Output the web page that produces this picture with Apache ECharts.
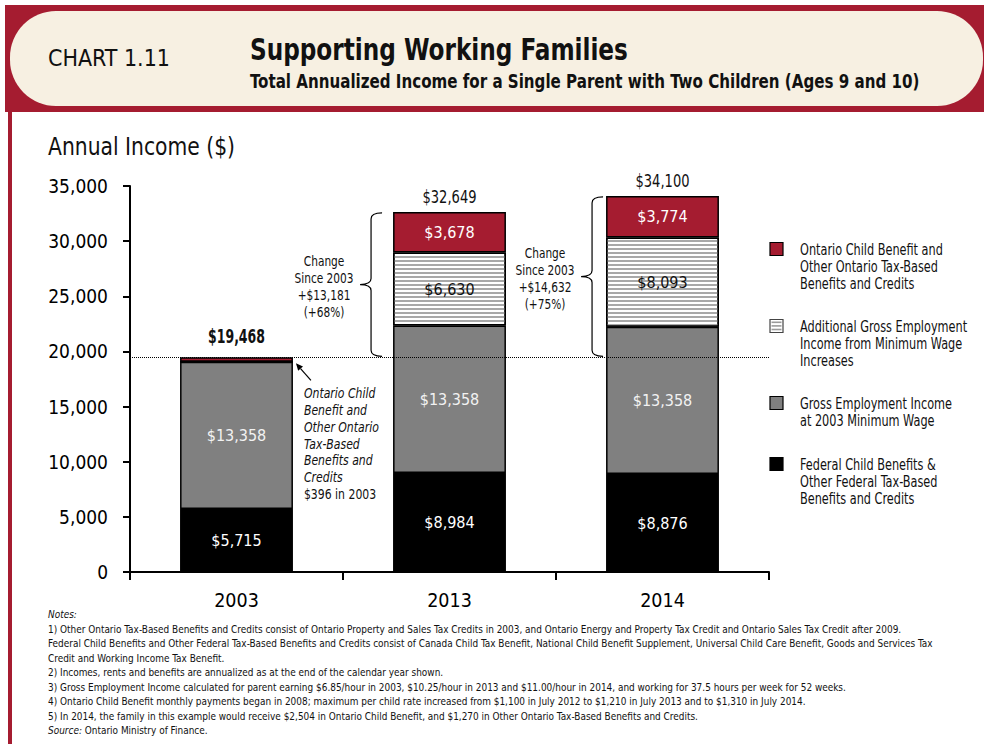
<!DOCTYPE html>
<html>
<head>
<meta charset="utf-8">
<script src="https://cdn.jsdelivr.net/npm/echarts@6/dist/echarts.min.js"></script>
<style>
html,body{margin:0;padding:0;background:#fff;}
#chart{width:984px;height:744px;}
</style>
</head>
<body>
<div id="chart"></div>
<script>
// ---- data ----
const years = ['2003', '2013', '2014'];
const federal = [5715, 8984, 8876];
const grossBase = [13358, 13358, 13358];
const additional = [0, 6630, 8093];
const ontario = [396, 3678, 3774];
const totals = [19468, 32649, 34100];
const seriesNames = [
  'Federal Child Benefits & Other Federal Tax-Based Benefits and Credits',
  'Gross Employment Income at 2003 Minimum Wage',
  'Additional Gross Employment Income from Minimum Wage Increases',
  'Ontario Child Benefit and Other Ontario Tax-Based Benefits and Credits'
];
const legendLines = [
  ['Federal Child Benefits &', 'Other Federal Tax-Based', 'Benefits and Credits'],
  ['Gross Employment Income', 'at 2003 Minimum Wage'],
  ['Additional Gross Employment', 'Income from Minimum Wage', 'Increases'],
  ['Ontario Child Benefit and', 'Other Ontario Tax-Based', 'Benefits and Credits']
];
const noteLines = [
  '1) Other Ontario Tax-Based Benefits and Credits consist of Ontario Property and Sales Tax Credits in 2003, and Ontario Energy and Property Tax Credit and Ontario Sales Tax Credit after 2009.',
  'Federal Child Benefits and Other Federal Tax-Based Benefits and Credits consist of Canada Child Tax Benefit, National Child Benefit Supplement, Universal Child Care Benefit, Goods and Services Tax',
  'Credit and Working Income Tax Benefit.',
  '2) Incomes, rents and benefits are annualized as at the end of the calendar year shown.',
  '3) Gross Employment Income calculated for parent earning $6.85/hour in 2003, $10.25/hour in 2013 and $11.00/hour in 2014, and working for 37.5 hours per week for 52 weeks.',
  '4) Ontario Child Benefit monthly payments began in 2008; maximum per child rate increased from $1,100 in July 2012 to $1,210 in July 2013 and to $1,310 in July 2014.',
  '5) In 2014, the family in this example would receive $2,504 in Ontario Child Benefit, and $1,270 in Other Ontario Tax-Based Benefits and Credits.'
];

// ---- style ----
const F = '"DejaVu Sans Condensed", "DejaVu Sans", sans-serif';
const RED = '#a51c30';
const CREAM = '#f7f0e2';
const BAR_FRAC = 0.53;
const BRACE_GAP = [0, 11, 3];
const LEGEND_CENTERS = [464, 403, 326, 249];
const LH = 17.5;

const fmt = v => '$' + Number(v).toLocaleString('en-US');

// horizontal scale so a condensed look matches the reference widths
const mctx = document.createElement('canvas').getContext('2d');
function fitX(text, size, targetW, weight, style) {
  mctx.font = (style || 'normal') + ' ' + (weight || 'normal') + ' ' + size + 'px ' + F;
  const w = Math.max.apply(null, String(text).split('\n').map(s => mctx.measureText(s).width));
  return targetW / w;
}

const colors = ['#000000', '#808080', '#ffffff', RED];
const labelColors = ['#ffffff', '#f2f2f2', '#111111', '#ffffff'];
const seriesData = [federal, grossBase, additional, ontario];

const barSeries = seriesData.map((arr, k) => ({
  name: seriesNames[k],
  type: 'bar',
  stack: 'total',
  barWidth: (BAR_FRAC * 100) + '%',
  data: arr.map(v => ({ value: v, label: { show: v > 1000 } })),
  itemStyle: Object.assign({
    color: colors[k],
    borderColor: '#000',
    borderWidth: 1.5
  }, k === 2 ? {
    decal: { symbol: 'rect', symbolSize: 1, dashArrayX: [[8, 0]], dashArrayY: [2, 2], color: '#a8a8a8', rotation: 0 }
  } : {}),
  label: {
    position: 'inside',
    color: labelColors[k],
    fontFamily: F,
    fontSize: 16,
    formatter: p => fmt(p.value)
  },
  emphasis: { disabled: true },
  markLine: k === 3 ? {
    silent: true,
    symbol: 'none',
    label: { show: false },
    lineStyle: { type: 'dotted', color: '#000', width: 1 },
    data: [{ yAxis: totals[0] }]
  } : undefined
}));

// brace annotations ("Change Since 2003")
const braceData = [1, 2].map(i => [i, totals[0], totals[i]]);
const braceSeries = {
  type: 'custom',
  silent: true,
  clip: false,
  z: 5,
  encode: { x: 0, y: [1, 2] },
  data: braceData,
  renderItem: (params, api) => {
    const i = api.value(0);
    const lo = api.coord([i, api.value(1)]);
    const hi = api.coord([i, api.value(2)]);
    const band = api.size([1, 0])[0];
    const barLeft = lo[0] - band * BAR_FRAC / 2;
    const hook = barLeft - BRACE_GAP[i];
    const xv = hook - 11;
    const tip = xv - 11;
    const yT = hi[1] + 1, yB = lo[1] - 1, yM = (yT + yB) / 2, r = 6;
    const d = `M${hook},${yT} Q${xv},${yT} ${xv},${yT + r} L${xv},${yM - r} Q${xv},${yM} ${tip},${yM} Q${xv},${yM} ${xv},${yM + r} L${xv},${yB - r} Q${xv},${yB} ${hook},${yB}`;
    const diff = api.value(2) - api.value(1);
    const pct = Math.round(diff / api.value(1) * 100);
    const txt = 'Change\nSince 2003\n+' + fmt(diff) + '\n(+' + pct + '%)';
    return {
      type: 'group',
      children: [
        { type: 'path', shape: { pathData: d }, style: { stroke: '#000', fill: null, lineWidth: 1.2 } },
        { type: 'text', x: tip - 36, y: yM + 2, scaleX: fitX('Since 2003', 13.5, 59), style: {
          text: txt,
          fontFamily: F, fontSize: 13.5, lineHeight: 17, fill: '#111',
          textAlign: 'center', textVerticalAlign: 'middle' } }
      ]
    };
  }
};

// 2003 annotation with arrow
const noteSeries = {
  type: 'custom',
  silent: true,
  clip: false,
  z: 5,
  encode: { x: 0, y: 1 },
  data: [[0, totals[0]]],
  renderItem: (params, api) => {
    const c = api.coord([api.value(0), api.value(1)]);
    const band = api.size([1, 0])[0];
    const barRight = c[0] + band * BAR_FRAC / 2;
    const tx = barRight + 3, ty = c[1] + 6;
    const sx = tx + 15, sy = ty + 17;
    const len = Math.hypot(tx - sx, ty - sy);
    const ux = (tx - sx) / len, uy = (ty - sy) / len;
    const hl = 7, hw = 3.2;
    const bx = tx - ux * hl, by = ty - uy * hl;
    return {
      type: 'group',
      children: [
        { type: 'line', shape: { x1: sx, y1: sy, x2: bx, y2: by }, style: { stroke: '#000', lineWidth: 1.2 } },
        { type: 'polygon', shape: { points: [[tx, ty], [bx - uy * hw, by + ux * hw], [bx + uy * hw, by - ux * hw]] }, style: { fill: '#000' } },
        { type: 'text', x: barRight + 11, y: ty + 22, scaleX: fitX('Other Ontario', 14, 75, 'normal', 'italic'), style: {
          text: '{i|Ontario Child}\n{i|Benefit and}\n{i|Other Ontario}\n{i|Tax-Based}\n{i|Benefits and}\n{i|Credits}\n{n|' + fmt(ontario[0]) + ' in 2003}',
          fontFamily: F, fontSize: 14, lineHeight: 16.7, fill: '#111',
          textAlign: 'left', textVerticalAlign: 'top',
          rich: {
            i: { fontStyle: 'italic', fontFamily: F, fontSize: 14, lineHeight: 16.7, fill: '#111' },
            n: { fontFamily: F, fontSize: 14, lineHeight: 16.7, fill: '#111' }
          } } }
      ]
    };
  }
};

// total labels
const totalSeries = {
  type: 'custom',
  silent: true,
  clip: false,
  z: 5,
  encode: { x: 0, y: 1 },
  data: totals.map((t, i) => [i, t]),
  renderItem: (params, api) => {
    const i = api.value(0);
    const c = api.coord([i, api.value(1)]);
    const t = fmt(totals[i]);
    const bold = i === 0;
    const size = bold ? 19 : 17.5;
    return {
      type: 'text', x: c[0], y: c[1] - (bold ? 11 : 6),
      scaleX: fitX(t, size, bold ? 57 : 54, bold ? 'bold' : 'normal'),
      style: {
        text: t,
        fontFamily: F, fontSize: size, fontWeight: bold ? 'bold' : 'normal',
        fill: '#111', textAlign: 'center', textVerticalAlign: 'bottom'
      }
    };
  }
};

// legend drawn as graphic items (icon + wrapped text)
const legendScale = fitX('Ontario Child Benefit and', 15.5, 143);
const legendGraphics = [];
seriesNames.forEach((name, k) => {
  const cy = LEGEND_CENTERS[k];
  const children = [
    { type: 'rect', shape: { x: 770, y: cy - 6.5, width: 13, height: 13 },
      style: { fill: colors[k], stroke: k === 2 ? '#444' : '#000', lineWidth: 1.2 } }
  ];
  if (k === 2) {
    for (let j = 0; j < 3; j++) {
      children.push({ type: 'rect', shape: { x: 771.5, y: cy - 4.5 + j * 3.6, width: 10, height: 1.6 }, style: { fill: '#9a9a9a' } });
    }
  }
  children.push({ type: 'text', x: 800, y: cy - LH / 2, scaleX: legendScale, style: {
    text: legendLines[k].join('\n'), fontFamily: F, fontSize: 15.5, lineHeight: LH, fill: '#111',
    textAlign: 'left', textVerticalAlign: 'top' } });
  legendGraphics.push({ type: 'group', silent: true, name: name, children: children });
});

const notesText = '{i|Notes:}\n' + noteLines.join('\n') + '\n{i|Source:} Ontario Ministry of Finance.';
const notesScale = fitX(noteLines[0], 11, 855);

const option = {
  animation: false,
  backgroundColor: '#fff',
  grid: { left: 130, right: 215, top: 186, bottom: 172, containLabel: false },
  xAxis: {
    type: 'category',
    data: years,
    axisLine: { lineStyle: { color: '#000', width: 2 } },
    axisTick: { show: true, inside: false, length: 8, lineStyle: { color: '#000', width: 2 } },
    axisLabel: { color: '#000', fontFamily: F, fontSize: 19.5, margin: 18 }
  },
  yAxis: {
    type: 'value',
    min: 0, max: 35000, interval: 5000,
    axisLine: { show: true, lineStyle: { color: '#000', width: 2 } },
    axisTick: { show: true, inside: false, length: 7, lineStyle: { color: '#000', width: 2 } },
    splitLine: { show: false },
    axisLabel: { color: '#000', fontFamily: F, fontSize: 19, margin: 22, formatter: v => Number(v).toLocaleString('en-US') }
  },
  series: barSeries.concat([braceSeries, noteSeries, totalSeries]),
  graphic: [
    { type: 'rect', silent: true, shape: { x: 5, y: 5, width: 979, height: 107 }, style: { fill: RED } },
    { type: 'rect', silent: true, shape: { x: 10, y: 11, width: 973, height: 95, r: 46 }, style: { fill: CREAM } },
    { type: 'rect', silent: true, shape: { x: 8, y: 112, width: 4, height: 632 }, style: { fill: RED } },
    { type: 'text', silent: true, x: 48, y: 58, scaleX: fitX('CHART 1.11', 23, 122), style: { text: 'CHART 1.11', fontFamily: F, fontSize: 23, fill: '#111', textAlign: 'left', textVerticalAlign: 'middle' } },
    { type: 'text', silent: true, x: 250, y: 50, scaleX: fitX('Supporting Working Families', 31, 378, 'bold'), style: { text: 'Supporting Working Families', fontFamily: F, fontSize: 31, fontWeight: 'bold', fill: '#111', textAlign: 'left', textVerticalAlign: 'middle' } },
    { type: 'text', silent: true, x: 250, y: 81, scaleX: fitX('Total Annualized Income for a Single Parent with Two Children (Ages 9 and 10)', 19.5, 670, 'bold'), style: { text: 'Total Annualized Income for a Single Parent with Two Children (Ages 9 and 10)', fontFamily: F, fontSize: 19.5, fontWeight: 'bold', fill: '#111', textAlign: 'left', textVerticalAlign: 'middle' } },
    { type: 'text', silent: true, x: 48, y: 146, scaleX: fitX('Annual Income ($)', 24, 187), style: { text: 'Annual Income ($)', fontFamily: F, fontSize: 24, fill: '#111', textAlign: 'left', textVerticalAlign: 'middle' } },
    { type: 'text', silent: true, x: 48, y: 606.8, scaleX: notesScale, style: {
      text: notesText, fontFamily: F, fontSize: 11, lineHeight: 14.5, fill: '#111',
      textAlign: 'left', textVerticalAlign: 'top',
      rich: { i: { fontStyle: 'italic', fontFamily: F, fontSize: 11, lineHeight: 14.5, fill: '#111' } } } }
  ].concat(legendGraphics)
};

const chart = echarts.init(document.getElementById('chart'), null, { renderer: 'svg', width: 984, height: 744 });
chart.setOption(option);
</script>
</body>
</html>
